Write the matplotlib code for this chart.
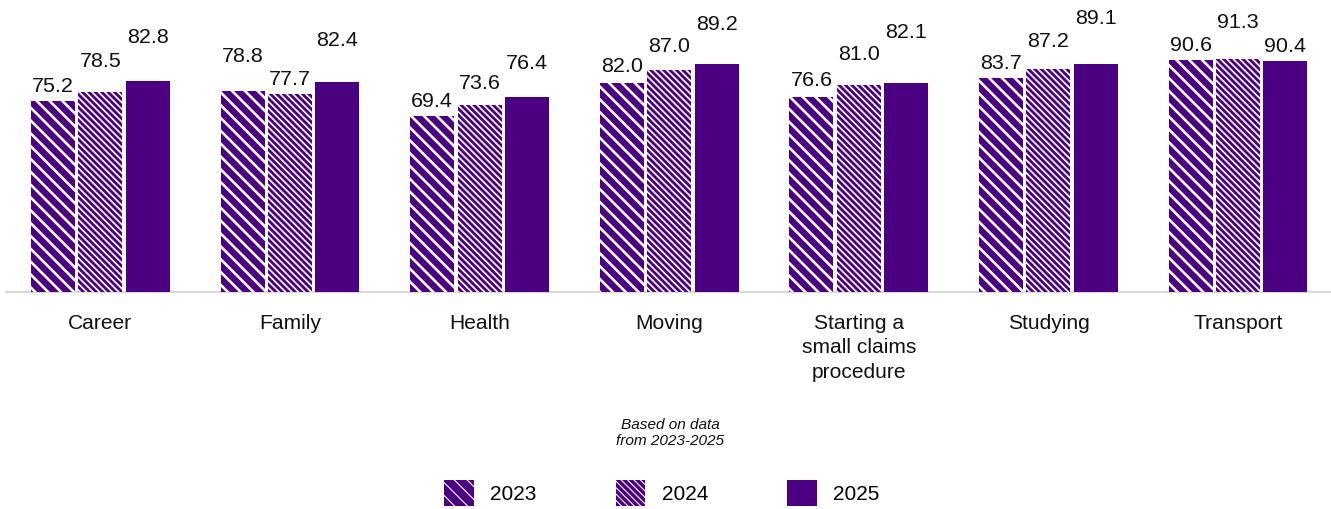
import matplotlib
matplotlib.use("Agg")
import matplotlib.pyplot as plt
import numpy as np

# ---- data ----
categories = ["Career", "Family", "Health", "Moving",
              "Starting a\nsmall claims\nprocedure", "Studying", "Transport"]
years = ["2023", "2024", "2025"]
values_2023 = [75.2, 78.8, 69.4, 82.0, 76.6, 83.7, 90.6]
values_2024 = [78.5, 77.7, 73.6, 87.0, 81.0, 87.2, 91.3]
values_2025 = [82.8, 82.4, 76.4, 89.2, 82.1, 89.1, 90.4]
note_text = "Based on data\nfrom 2023-2025"

# ---- layout / style ----
DPI = 77
W, H = 1331, 509
PX = 72.0 / DPI          # points per pixel
PURPLE = "#4b0082"

# extra upward shift (pixels) for value labels that would collide
label_lift_px = [
    [0, 16, 29],
    [20, 0, 27],
    [0, 7, 19],
    [2, 9, 25],
    [2, 16, 36],
    [0, 13, 31],
    [0, 22, 0],
]

plt.rcParams["font.family"] = ["Liberation Sans", "DejaVu Sans"]
FS = 21.5 * PX

fig = plt.figure(figsize=(W / DPI, H / DPI), dpi=DPI)
ax = fig.add_axes([6 / W, 1 - 292 / H, 1 - 6 / W, (292 - 10) / H])

series = [values_2023, values_2024, values_2025]
hatches = ["\\\\", "\\\\\\\\", None]
hatch_lw = [2.6 * PX, 1.7 * PX, 1.0]
x = np.arange(len(categories))
offset = 0.25
width = 0.232

bar_sets = []
for j, (vals, h, hlw) in enumerate(zip(series, hatches, hatch_lw)):
    with plt.rc_context({"hatch.linewidth": hlw, "hatch.color": "white"}):
        bars = ax.bar(x + (j - 1) * offset, vals, width, color=PURPLE,
                      edgecolor="white", linewidth=0, hatch=h, label=years[j],
                      zorder=2)
    for b in bars:
        if h is not None:
            try:
                b.set_hatch_linewidth(hlw)
            except AttributeError:
                pass
    bar_sets.append(bars)

# value labels
for j, vals in enumerate(series):
    for i, v in enumerate(vals):
        ax.annotate(f"{v:.1f}", xy=(x[i] + (j - 1) * offset, v),
                    xytext=(0, (9 + label_lift_px[i][j]) * PX),
                    textcoords="offset points", ha="center", va="baseline",
                    fontsize=FS, color="#111111", zorder=3)

ax.set_ylim(1.84, 109.9)
ax.set_xlim(-0.498, 6.49)
ax.axhline(1.84, color="#d9d9d9", linewidth=2.2 * PX, zorder=1, clip_on=False)
for s in ax.spines.values():
    s.set_visible(False)
ax.set_yticks([])
ax.set_xticks(x)
ax.set_xticklabels(categories, fontsize=FS * 0.98, color="#111111",
                   linespacing=1.36)
ax.tick_params(axis="x", length=0, pad=22 * PX)

fig.text(670 / W, 1 - 418 / H, note_text, ha="center", va="top",
         fontsize=15.4 * PX, style="italic", color="#111111", linespacing=1.15)

fig.legend(handles=bar_sets, labels=years, loc="center",
           bbox_to_anchor=(662 / W, 1 - 493 / H), ncol=3, frameon=False,
           fontsize=FS * 0.97, handlelength=1.4, handleheight=1.55,
           handletextpad=0.8, columnspacing=3.8, borderpad=0, borderaxespad=0)

fig.savefig("out.png", dpi=DPI)
